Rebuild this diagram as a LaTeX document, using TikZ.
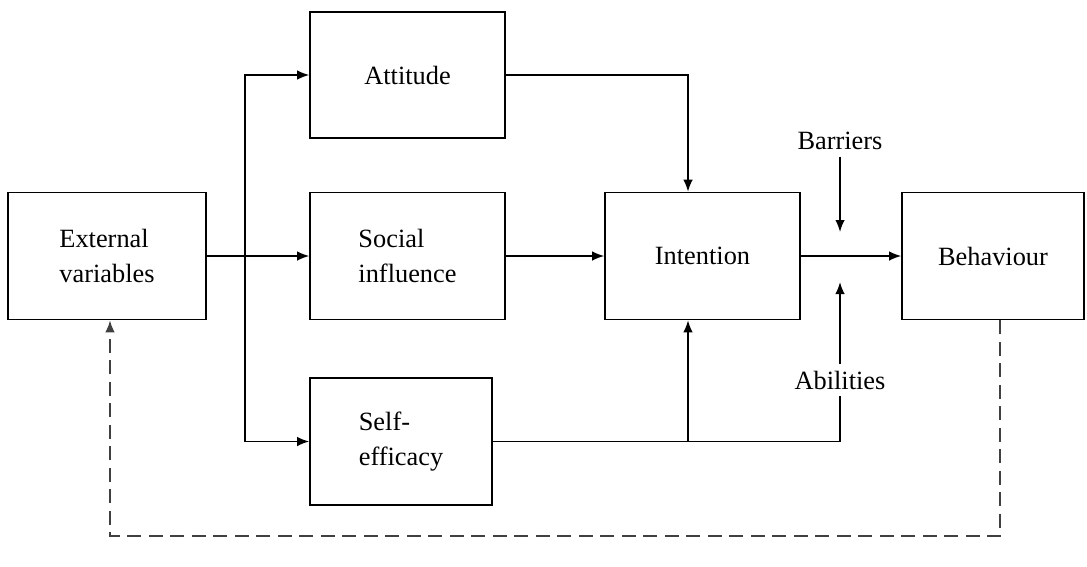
\documentclass[tikz,border=0pt]{standalone}
\usepackage{fontspec}
\setmainfont{Liberation Serif}
\usetikzlibrary{arrows.meta}

\begin{document}
\begin{tikzpicture}[x=0.02cm, y=-0.02cm, ->, >={Latex[length=2.4mm,width=1.9mm]}, line width=0.9pt,
	font=\fontsize{15}{20}\selectfont]
			\tikzset{box/.style={rectangle, draw, align=left, minimum height=2.54cm}}
			\useasboundingbox (0,0) rectangle (1087,566);
			
			\node[box, minimum width=3.96cm] (ext) at (107,256) {External\\variables};
			\node[box, minimum width=3.9cm, minimum height=2.52cm] (att) at (407.5,75) {Attitude};
			\node[box, minimum width=3.9cm] (soc) at (407.5,256) {Social\\influence};
			\node[box, minimum width=3.64cm] (self) at (401,441.5) {Self-\\efficacy};
			\node[box, minimum width=3.9cm] (int) at (702.5,256) {Intention};
			\node[box, minimum width=3.64cm] (beh) at (993,256) {Behaviour};
			\node (barr) at (840,141) {Barriers};
			\node (abil) at (840,380) {Abilities};
			
			\coordinate (split) at (245,256);
			\coordinate (join) at (688,441);
			\coordinate (barend) at (840,232);
			\coordinate (abilend) at (840,282);
			
			\draw (ext) -- (soc);
			\draw (split) |- (att);
			\draw (split) |- (self);
			\draw (att) -| ([xshift=-0.29cm]int.north);
			\draw (soc) -- (int);
			\draw (int) -- (beh);
			\draw[-] (self) -- (self.east -| abil) -- (abil);
			\draw (join) -- ([xshift=-0.29cm]int.south);
			\draw (abil) -- (abilend);
			\draw (barr) -- (barend);
			% feedback loop
			\draw[dash pattern=on 0.28cm off 0.15cm, line width=1.1pt, black!75]
				([xshift=0.14cm]beh.south) -- ++(0,216) -| ([xshift=0.06cm]ext.south);
		\end{tikzpicture}
\end{document}
